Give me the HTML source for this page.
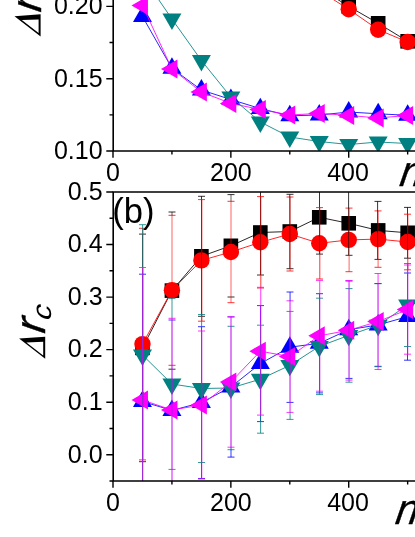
<!DOCTYPE html><html><head><meta charset="utf-8"><style>html,body{margin:0;padding:0;background:#fff}svg{display:block;will-change:transform}</style></head><body><svg width="415" height="537" viewBox="0 0 415 537">
<rect width="415" height="537" fill="#fff"/>
<defs><clipPath id="ct"><rect x="113.0" y="-50" width="400" height="201.0"/></clipPath>
<clipPath id="cb"><rect x="113.0" y="192.0" width="400" height="289.0"/></clipPath></defs>
<g clip-path="url(#ct)">
<polyline points="319.25,-12.00 348.72,6.40 378.19,23.30 407.65,41.30" fill="none" stroke="#000000" stroke-width="0.85"/>
<rect x="311.95" y="-19.30" width="14.6" height="14.6" fill="#000000"/>
<rect x="341.42" y="-0.90" width="14.6" height="14.6" fill="#000000"/>
<rect x="370.88" y="16.00" width="14.6" height="14.6" fill="#000000"/>
<rect x="400.35" y="34.00" width="14.6" height="14.6" fill="#000000"/>
<polyline points="319.25,-9.40 348.72,9.30 378.19,29.70 407.65,42.00" fill="none" stroke="#ff0000" stroke-width="0.85"/>
<circle cx="319.25" cy="-9.40" r="8.2" fill="#ff0000"/>
<circle cx="348.72" cy="9.30" r="8.2" fill="#ff0000"/>
<circle cx="378.19" cy="29.70" r="8.2" fill="#ff0000"/>
<circle cx="407.65" cy="42.00" r="8.2" fill="#ff0000"/>
<polyline points="142.47,16.50 171.93,68.30 201.40,90.00 230.86,99.50 260.33,108.60 289.79,115.80 319.25,115.00 348.72,112.00 378.19,113.80 407.65,115.30" fill="none" stroke="#0000ff" stroke-width="0.85"/>
<polygon points="142.47,5.53 132.97,21.98 151.97,21.98" fill="#0000ff"/>
<polygon points="171.93,57.33 162.43,73.78 181.43,73.78" fill="#0000ff"/>
<polygon points="201.40,79.03 191.90,95.48 210.90,95.48" fill="#0000ff"/>
<polygon points="230.86,88.53 221.36,104.98 240.36,104.98" fill="#0000ff"/>
<polygon points="260.33,97.63 250.83,114.08 269.83,114.08" fill="#0000ff"/>
<polygon points="289.79,104.83 280.29,121.28 299.29,121.28" fill="#0000ff"/>
<polygon points="319.25,104.03 309.75,120.48 328.75,120.48" fill="#0000ff"/>
<polygon points="348.72,101.03 339.22,117.48 358.22,117.48" fill="#0000ff"/>
<polygon points="378.19,102.83 368.69,119.28 387.69,119.28" fill="#0000ff"/>
<polygon points="407.65,104.33 398.15,120.78 417.15,120.78" fill="#0000ff"/>
<polyline points="142.47,-24.00 171.93,19.00 201.40,60.50 230.86,97.00 260.33,122.00 289.79,137.00 319.25,141.50 348.72,144.50 378.19,142.00 407.65,143.50" fill="none" stroke="#008080" stroke-width="0.85"/>
<polygon points="142.47,-13.03 132.97,-29.48 151.97,-29.48" fill="#008080"/>
<polygon points="171.93,29.97 162.43,13.52 181.43,13.52" fill="#008080"/>
<polygon points="201.40,71.47 191.90,55.02 210.90,55.02" fill="#008080"/>
<polygon points="230.86,107.97 221.36,91.52 240.36,91.52" fill="#008080"/>
<polygon points="260.33,132.97 250.83,116.52 269.83,116.52" fill="#008080"/>
<polygon points="289.79,147.97 280.29,131.52 299.29,131.52" fill="#008080"/>
<polygon points="319.25,152.47 309.75,136.02 328.75,136.02" fill="#008080"/>
<polygon points="348.72,155.47 339.22,139.02 358.22,139.02" fill="#008080"/>
<polygon points="378.19,152.97 368.69,136.52 387.69,136.52" fill="#008080"/>
<polygon points="407.65,154.47 398.15,138.02 417.15,138.02" fill="#008080"/>
<polyline points="142.47,5.50 171.93,69.00 201.40,92.00 230.86,103.40 260.33,109.50 289.79,115.00 319.25,113.40 348.72,115.40 378.19,118.00 407.65,115.40" fill="none" stroke="#ff00ff" stroke-width="0.85"/>
<polygon points="131.50,5.50 147.95,-4.00 147.95,15.00" fill="#ff00ff"/>
<polygon points="160.96,69.00 177.41,59.50 177.41,78.50" fill="#ff00ff"/>
<polygon points="190.43,92.00 206.88,82.50 206.88,101.50" fill="#ff00ff"/>
<polygon points="219.89,103.40 236.34,93.90 236.34,112.90" fill="#ff00ff"/>
<polygon points="249.36,109.50 265.81,100.00 265.81,119.00" fill="#ff00ff"/>
<polygon points="278.82,115.00 295.27,105.50 295.27,124.50" fill="#ff00ff"/>
<polygon points="308.29,113.40 324.74,103.90 324.74,122.90" fill="#ff00ff"/>
<polygon points="337.75,115.40 354.20,105.90 354.20,124.90" fill="#ff00ff"/>
<polygon points="367.22,118.00 383.67,108.50 383.67,127.50" fill="#ff00ff"/>
<polygon points="396.68,115.40 413.13,105.90 413.13,124.90" fill="#ff00ff"/>
</g>
<g clip-path="url(#cb)">
<polyline points="142.47,347.90 171.93,290.60 201.40,256.30 230.86,245.80 260.33,232.50 289.79,231.50 319.25,217.30 348.72,223.30 378.19,230.40 407.65,232.80" fill="none" stroke="#000000" stroke-width="0.85"/>
<rect x="135.16" y="340.60" width="14.6" height="14.6" fill="#000000"/>
<rect x="164.63" y="283.30" width="14.6" height="14.6" fill="#000000"/>
<rect x="194.09" y="249.00" width="14.6" height="14.6" fill="#000000"/>
<rect x="223.56" y="238.50" width="14.6" height="14.6" fill="#000000"/>
<rect x="253.03" y="225.20" width="14.6" height="14.6" fill="#000000"/>
<rect x="282.49" y="224.20" width="14.6" height="14.6" fill="#000000"/>
<rect x="311.95" y="210.00" width="14.6" height="14.6" fill="#000000"/>
<rect x="341.42" y="216.00" width="14.6" height="14.6" fill="#000000"/>
<rect x="370.88" y="223.10" width="14.6" height="14.6" fill="#000000"/>
<rect x="400.35" y="225.50" width="14.6" height="14.6" fill="#000000"/>
<polyline points="142.47,344.10 171.93,290.30 201.40,260.40 230.86,252.00 260.33,242.30 289.79,234.00 319.25,243.30 348.72,239.90 378.19,239.10 407.65,242.00" fill="none" stroke="#ff0000" stroke-width="0.85"/>
<circle cx="142.47" cy="344.10" r="8.2" fill="#ff0000"/>
<circle cx="171.93" cy="290.30" r="8.2" fill="#ff0000"/>
<circle cx="201.40" cy="260.40" r="8.2" fill="#ff0000"/>
<circle cx="230.86" cy="252.00" r="8.2" fill="#ff0000"/>
<circle cx="260.33" cy="242.30" r="8.2" fill="#ff0000"/>
<circle cx="289.79" cy="234.00" r="8.2" fill="#ff0000"/>
<circle cx="319.25" cy="243.30" r="8.2" fill="#ff0000"/>
<circle cx="348.72" cy="239.90" r="8.2" fill="#ff0000"/>
<circle cx="378.19" cy="239.10" r="8.2" fill="#ff0000"/>
<circle cx="407.65" cy="242.00" r="8.2" fill="#ff0000"/>
<polyline points="142.47,401.50 171.93,410.40 201.40,402.60 230.86,387.00 260.33,363.60 289.79,347.20 319.25,343.30 348.72,329.70 378.19,324.90 407.65,316.60" fill="none" stroke="#0000ff" stroke-width="0.85"/>
<polygon points="142.47,390.53 132.97,406.98 151.97,406.98" fill="#0000ff"/>
<polygon points="171.93,399.43 162.43,415.88 181.43,415.88" fill="#0000ff"/>
<polygon points="201.40,391.63 191.90,408.08 210.90,408.08" fill="#0000ff"/>
<polygon points="230.86,376.03 221.36,392.48 240.36,392.48" fill="#0000ff"/>
<polygon points="260.33,352.63 250.83,369.08 269.83,369.08" fill="#0000ff"/>
<polygon points="289.79,336.23 280.29,352.68 299.29,352.68" fill="#0000ff"/>
<polygon points="319.25,332.33 309.75,348.78 328.75,348.78" fill="#0000ff"/>
<polygon points="348.72,318.73 339.22,335.18 358.22,335.18" fill="#0000ff"/>
<polygon points="378.19,313.93 368.69,330.38 387.69,330.38" fill="#0000ff"/>
<polygon points="407.65,305.63 398.15,322.08 417.15,322.08" fill="#0000ff"/>
<polyline points="142.47,355.00 171.93,384.00 201.40,388.50 230.86,388.00 260.33,379.20 289.79,365.40 319.25,346.40 348.72,335.40 378.19,325.20 407.65,305.00" fill="none" stroke="#008080" stroke-width="0.85"/>
<polygon points="142.47,365.97 132.97,349.52 151.97,349.52" fill="#008080"/>
<polygon points="171.93,394.97 162.43,378.52 181.43,378.52" fill="#008080"/>
<polygon points="201.40,399.47 191.90,383.02 210.90,383.02" fill="#008080"/>
<polygon points="230.86,398.97 221.36,382.52 240.36,382.52" fill="#008080"/>
<polygon points="260.33,390.17 250.83,373.72 269.83,373.72" fill="#008080"/>
<polygon points="289.79,376.37 280.29,359.92 299.29,359.92" fill="#008080"/>
<polygon points="319.25,357.37 309.75,340.92 328.75,340.92" fill="#008080"/>
<polygon points="348.72,346.37 339.22,329.92 358.22,329.92" fill="#008080"/>
<polygon points="378.19,336.17 368.69,319.72 387.69,319.72" fill="#008080"/>
<polygon points="407.65,315.97 398.15,299.52 417.15,299.52" fill="#008080"/>
<polyline points="142.47,400.00 171.93,410.00 201.40,405.00 230.86,382.00 260.33,351.20 289.79,356.60 319.25,335.80 348.72,330.30 378.19,321.50 407.65,309.60" fill="none" stroke="#ff00ff" stroke-width="0.85"/>
<polygon points="131.50,400.00 147.95,390.50 147.95,409.50" fill="#ff00ff"/>
<polygon points="160.96,410.00 177.41,400.50 177.41,419.50" fill="#ff00ff"/>
<polygon points="190.43,405.00 206.88,395.50 206.88,414.50" fill="#ff00ff"/>
<polygon points="219.89,382.00 236.34,372.50 236.34,391.50" fill="#ff00ff"/>
<polygon points="249.36,351.20 265.81,341.70 265.81,360.70" fill="#ff00ff"/>
<polygon points="278.82,356.60 295.27,347.10 295.27,366.10" fill="#ff00ff"/>
<polygon points="308.29,335.80 324.74,326.30 324.74,345.30" fill="#ff00ff"/>
<polygon points="337.75,330.30 354.20,320.80 354.20,339.80" fill="#ff00ff"/>
<polygon points="367.22,321.50 383.67,312.00 383.67,331.00" fill="#ff00ff"/>
<polygon points="396.68,309.60 413.13,300.10 413.13,319.10" fill="#ff00ff"/>
<path d="M139.00 234.10h7.0M139.00 461.70h7.0" stroke="#000000" stroke-width="0.8" fill="none"/>
<path d="M142.50 234.10V461.70" stroke="#000000" stroke-width="0.8" fill="none"/>
<path d="M139.00 228.30h7.0M139.00 459.90h7.0" stroke="#ff0000" stroke-width="0.8" fill="none"/>
<path d="M142.80 228.30V459.90" stroke="#ff0000" stroke-width="0.8" fill="none"/>
<path d="M139.00 274.20h7.0M139.00 528.80h7.0" stroke="#0000ff" stroke-width="0.8" fill="none"/>
<path d="M142.50 274.20V528.80" stroke="#0000ff" stroke-width="0.8" fill="none"/>
<path d="M139.00 224.70h7.0M139.00 485.30h7.0" stroke="#008080" stroke-width="0.8" fill="none"/>
<path d="M142.60 224.70V485.30" stroke="#008080" stroke-width="0.8" fill="none"/>
<path d="M139.00 267.50h7.0M139.00 532.50h7.0" stroke="#ff00ff" stroke-width="0.8" fill="none"/>
<path d="M142.75 267.50V532.50" stroke="#ff00ff" stroke-width="0.8" fill="none"/>
<path d="M168.50 212.00h7.0M168.50 369.20h7.0" stroke="#000000" stroke-width="0.8" fill="none"/>
<path d="M168.50 215.30h7.0M168.50 365.30h7.0" stroke="#ff0000" stroke-width="0.8" fill="none"/>
<path d="M168.50 320.00h7.0M168.50 500.80h7.0" stroke="#0000ff" stroke-width="0.8" fill="none"/>
<path d="M168.50 298.60h7.0M168.50 469.40h7.0" stroke="#008080" stroke-width="0.8" fill="none"/>
<path d="M168.50 318.30h7.0M168.50 501.70h7.0" stroke="#ff00ff" stroke-width="0.8" fill="none"/>
<path d="M172.00 320.00V500.80" stroke="#0000ff" stroke-width="0.25" fill="none"/>
<path d="M172.00 298.60V469.40" stroke="#008080" stroke-width="0.25" fill="none"/>
<path d="M172.00 318.30V501.70" stroke="#ff00ff" stroke-width="0.25" fill="none"/>
<path d="M172.00 212.00V215.30" stroke="#000000" stroke-width="0.62" fill="none"/>
<path d="M172.00 215.30V298.60" stroke="#ff0000" stroke-width="0.62" fill="none"/>
<path d="M172.00 298.60V318.30" stroke="#008080" stroke-width="0.62" fill="none"/>
<path d="M172.00 318.30V320.00" stroke="#ff00ff" stroke-width="0.62" fill="none"/>
<path d="M172.00 320.00V365.30" stroke="#ff00ff" stroke-width="0.62" fill="none"/>
<path d="M172.00 365.30V369.20" stroke="#ff00ff" stroke-width="0.62" fill="none"/>
<path d="M172.00 369.20V469.40" stroke="#ff00ff" stroke-width="0.62" fill="none"/>
<path d="M172.00 469.40V500.80" stroke="#ff00ff" stroke-width="0.62" fill="none"/>
<path d="M172.00 500.80V501.70" stroke="#ff00ff" stroke-width="0.62" fill="none"/>
<path d="M198.00 196.30h7.0M198.00 316.30h7.0" stroke="#000000" stroke-width="0.8" fill="none"/>
<path d="M201.50 196.30V316.30" stroke="#000000" stroke-width="0.8" fill="none"/>
<path d="M198.00 199.60h7.0M198.00 321.20h7.0" stroke="#ff0000" stroke-width="0.8" fill="none"/>
<path d="M201.80 199.60V321.20" stroke="#ff0000" stroke-width="0.8" fill="none"/>
<path d="M198.00 326.70h7.0M198.00 478.50h7.0" stroke="#0000ff" stroke-width="0.8" fill="none"/>
<path d="M201.50 326.70V478.50" stroke="#0000ff" stroke-width="0.8" fill="none"/>
<path d="M198.00 314.50h7.0M198.00 462.50h7.0" stroke="#008080" stroke-width="0.8" fill="none"/>
<path d="M201.60 314.50V462.50" stroke="#008080" stroke-width="0.8" fill="none"/>
<path d="M198.00 331.00h7.0M198.00 479.00h7.0" stroke="#ff00ff" stroke-width="0.8" fill="none"/>
<path d="M201.75 331.00V479.00" stroke="#ff00ff" stroke-width="0.8" fill="none"/>
<path d="M227.50 194.60h7.0M227.50 297.00h7.0" stroke="#000000" stroke-width="0.8" fill="none"/>
<path d="M227.50 201.30h7.0M227.50 302.70h7.0" stroke="#ff0000" stroke-width="0.8" fill="none"/>
<path d="M227.50 316.90h7.0M227.50 457.10h7.0" stroke="#0000ff" stroke-width="0.8" fill="none"/>
<path d="M227.50 326.30h7.0M227.50 449.70h7.0" stroke="#008080" stroke-width="0.8" fill="none"/>
<path d="M227.50 316.80h7.0M227.50 447.20h7.0" stroke="#ff00ff" stroke-width="0.8" fill="none"/>
<path d="M231.00 316.90V457.10" stroke="#0000ff" stroke-width="0.25" fill="none"/>
<path d="M231.00 326.30V449.70" stroke="#008080" stroke-width="0.25" fill="none"/>
<path d="M231.00 316.80V447.20" stroke="#ff00ff" stroke-width="0.25" fill="none"/>
<path d="M231.00 194.60V201.30" stroke="#000000" stroke-width="0.62" fill="none"/>
<path d="M231.00 201.30V297.00" stroke="#ff0000" stroke-width="0.62" fill="none"/>
<path d="M231.00 297.00V302.70" stroke="#ff0000" stroke-width="0.62" fill="none"/>
<path d="M231.00 316.80V316.90" stroke="#ff00ff" stroke-width="0.62" fill="none"/>
<path d="M231.00 316.90V326.30" stroke="#ff00ff" stroke-width="0.62" fill="none"/>
<path d="M231.00 326.30V447.20" stroke="#ff00ff" stroke-width="0.62" fill="none"/>
<path d="M231.00 447.20V449.70" stroke="#008080" stroke-width="0.62" fill="none"/>
<path d="M231.00 449.70V457.10" stroke="#0000ff" stroke-width="0.62" fill="none"/>
<path d="M257.00 190.00h7.0M257.00 275.00h7.0" stroke="#000000" stroke-width="0.8" fill="none"/>
<path d="M260.50 190.00V275.00" stroke="#000000" stroke-width="0.8" fill="none"/>
<path d="M257.00 196.60h7.0M257.00 288.00h7.0" stroke="#ff0000" stroke-width="0.8" fill="none"/>
<path d="M260.80 196.60V288.00" stroke="#ff0000" stroke-width="0.8" fill="none"/>
<path d="M257.00 305.60h7.0M257.00 421.60h7.0" stroke="#0000ff" stroke-width="0.8" fill="none"/>
<path d="M260.50 305.60V421.60" stroke="#0000ff" stroke-width="0.8" fill="none"/>
<path d="M257.00 325.20h7.0M257.00 433.20h7.0" stroke="#008080" stroke-width="0.8" fill="none"/>
<path d="M260.60 325.20V433.20" stroke="#008080" stroke-width="0.8" fill="none"/>
<path d="M257.00 287.30h7.0M257.00 415.10h7.0" stroke="#ff00ff" stroke-width="0.8" fill="none"/>
<path d="M260.75 287.30V415.10" stroke="#ff00ff" stroke-width="0.8" fill="none"/>
<path d="M286.50 194.30h7.0M286.50 268.70h7.0" stroke="#000000" stroke-width="0.8" fill="none"/>
<path d="M286.50 197.00h7.0M286.50 271.00h7.0" stroke="#ff0000" stroke-width="0.8" fill="none"/>
<path d="M286.50 292.00h7.0M286.50 402.40h7.0" stroke="#0000ff" stroke-width="0.8" fill="none"/>
<path d="M286.50 311.40h7.0M286.50 419.40h7.0" stroke="#008080" stroke-width="0.8" fill="none"/>
<path d="M286.50 300.80h7.0M286.50 412.40h7.0" stroke="#ff00ff" stroke-width="0.8" fill="none"/>
<path d="M289.80 194.30V268.70" stroke="#000000" stroke-width="0.8" fill="none"/>
<path d="M290.00 292.00V402.40" stroke="#0000ff" stroke-width="0.25" fill="none"/>
<path d="M290.00 311.40V419.40" stroke="#008080" stroke-width="0.25" fill="none"/>
<path d="M290.00 300.80V412.40" stroke="#ff00ff" stroke-width="0.25" fill="none"/>
<path d="M290.10 197.00V271.00" stroke="#ff0000" stroke-width="0.62" fill="none"/>
<path d="M290.10 292.00V300.80" stroke="#0000ff" stroke-width="0.62" fill="none"/>
<path d="M290.10 300.80V311.40" stroke="#ff00ff" stroke-width="0.62" fill="none"/>
<path d="M290.10 311.40V402.40" stroke="#ff00ff" stroke-width="0.62" fill="none"/>
<path d="M290.10 402.40V412.40" stroke="#ff00ff" stroke-width="0.62" fill="none"/>
<path d="M290.10 412.40V419.40" stroke="#008080" stroke-width="0.62" fill="none"/>
<path d="M316.00 180.50h7.0M316.00 254.10h7.0" stroke="#000000" stroke-width="0.8" fill="none"/>
<path d="M319.50 180.50V254.10" stroke="#000000" stroke-width="0.8" fill="none"/>
<path d="M316.00 207.60h7.0M316.00 279.00h7.0" stroke="#ff0000" stroke-width="0.8" fill="none"/>
<path d="M319.80 207.60V279.00" stroke="#ff0000" stroke-width="0.8" fill="none"/>
<path d="M316.00 293.70h7.0M316.00 392.90h7.0" stroke="#0000ff" stroke-width="0.8" fill="none"/>
<path d="M319.50 293.70V392.90" stroke="#0000ff" stroke-width="0.8" fill="none"/>
<path d="M316.00 298.20h7.0M316.00 394.60h7.0" stroke="#008080" stroke-width="0.8" fill="none"/>
<path d="M319.60 298.20V394.60" stroke="#008080" stroke-width="0.8" fill="none"/>
<path d="M316.00 280.40h7.0M316.00 391.20h7.0" stroke="#ff00ff" stroke-width="0.8" fill="none"/>
<path d="M319.75 280.40V391.20" stroke="#ff00ff" stroke-width="0.8" fill="none"/>
<path d="M345.50 191.30h7.0M345.50 255.30h7.0" stroke="#000000" stroke-width="0.8" fill="none"/>
<path d="M345.50 208.10h7.0M345.50 271.70h7.0" stroke="#ff0000" stroke-width="0.8" fill="none"/>
<path d="M345.50 281.00h7.0M345.50 378.40h7.0" stroke="#0000ff" stroke-width="0.8" fill="none"/>
<path d="M345.50 288.60h7.0M345.50 382.20h7.0" stroke="#008080" stroke-width="0.8" fill="none"/>
<path d="M345.50 280.50h7.0M345.50 380.10h7.0" stroke="#ff00ff" stroke-width="0.8" fill="none"/>
<path d="M348.60 191.30V255.30" stroke="#000000" stroke-width="0.8" fill="none"/>
<path d="M349.00 281.00V378.40" stroke="#0000ff" stroke-width="0.25" fill="none"/>
<path d="M349.00 288.60V382.20" stroke="#008080" stroke-width="0.25" fill="none"/>
<path d="M349.00 280.50V380.10" stroke="#ff00ff" stroke-width="0.25" fill="none"/>
<path d="M349.10 208.10V271.70" stroke="#ff0000" stroke-width="0.62" fill="none"/>
<path d="M349.10 280.50V281.00" stroke="#ff00ff" stroke-width="0.62" fill="none"/>
<path d="M349.10 281.00V288.60" stroke="#ff00ff" stroke-width="0.62" fill="none"/>
<path d="M349.10 288.60V378.40" stroke="#ff00ff" stroke-width="0.62" fill="none"/>
<path d="M349.10 378.40V380.10" stroke="#ff00ff" stroke-width="0.62" fill="none"/>
<path d="M349.10 380.10V382.20" stroke="#008080" stroke-width="0.62" fill="none"/>
<path d="M374.50 201.40h7.0M374.50 259.40h7.0" stroke="#000000" stroke-width="0.8" fill="none"/>
<path d="M374.50 210.90h7.0M374.50 267.30h7.0" stroke="#ff0000" stroke-width="0.8" fill="none"/>
<path d="M374.50 283.50h7.0M374.50 366.30h7.0" stroke="#0000ff" stroke-width="0.8" fill="none"/>
<path d="M374.50 283.70h7.0M374.50 366.70h7.0" stroke="#008080" stroke-width="0.8" fill="none"/>
<path d="M374.50 273.50h7.0M374.50 369.50h7.0" stroke="#ff00ff" stroke-width="0.8" fill="none"/>
<path d="M377.60 201.40V259.40" stroke="#000000" stroke-width="0.8" fill="none"/>
<path d="M378.00 283.50V366.30" stroke="#0000ff" stroke-width="0.25" fill="none"/>
<path d="M378.00 283.70V366.70" stroke="#008080" stroke-width="0.25" fill="none"/>
<path d="M378.00 273.50V369.50" stroke="#ff00ff" stroke-width="0.25" fill="none"/>
<path d="M378.10 210.90V267.30" stroke="#ff0000" stroke-width="0.62" fill="none"/>
<path d="M378.10 273.50V283.50" stroke="#ff00ff" stroke-width="0.62" fill="none"/>
<path d="M378.10 283.50V283.70" stroke="#ff00ff" stroke-width="0.62" fill="none"/>
<path d="M378.10 283.70V366.30" stroke="#ff00ff" stroke-width="0.62" fill="none"/>
<path d="M378.10 366.30V366.70" stroke="#ff00ff" stroke-width="0.62" fill="none"/>
<path d="M378.10 366.70V369.50" stroke="#ff00ff" stroke-width="0.62" fill="none"/>
<path d="M404.00 207.40h7.0M404.00 258.20h7.0" stroke="#000000" stroke-width="0.8" fill="none"/>
<path d="M407.50 207.40V258.20" stroke="#000000" stroke-width="0.8" fill="none"/>
<path d="M404.00 214.20h7.0M404.00 269.80h7.0" stroke="#ff0000" stroke-width="0.8" fill="none"/>
<path d="M407.80 214.20V269.80" stroke="#ff0000" stroke-width="0.8" fill="none"/>
<path d="M404.00 273.00h7.0M404.00 360.20h7.0" stroke="#0000ff" stroke-width="0.8" fill="none"/>
<path d="M407.50 273.00V360.20" stroke="#0000ff" stroke-width="0.8" fill="none"/>
<path d="M404.00 263.50h7.0M404.00 346.50h7.0" stroke="#008080" stroke-width="0.8" fill="none"/>
<path d="M407.60 263.50V346.50" stroke="#008080" stroke-width="0.8" fill="none"/>
<path d="M404.00 265.00h7.0M404.00 354.20h7.0" stroke="#ff00ff" stroke-width="0.8" fill="none"/>
<path d="M407.75 265.00V354.20" stroke="#ff00ff" stroke-width="0.8" fill="none"/>
</g>
<path d="M113.2 -5V151.8M112.4 151.0H420" stroke="#000" stroke-width="1.6" fill="none"/>
<path d="M113.2 191.2V481.8M112.4 192.0H420M112.4 481.0H420" stroke="#000" stroke-width="1.6" fill="none"/>
<path d="M106.3 6.40H113.0M109.5 42.55H113.0M106.3 78.70H113.0M109.5 114.85H113.0M106.3 151.00H113.0M109.5 481.00H113.0M106.3 454.73H113.0M109.5 428.46H113.0M106.3 402.19H113.0M109.5 375.91H113.0M106.3 349.64H113.0M109.5 323.37H113.0M106.3 297.09H113.0M109.5 270.82H113.0M106.3 244.55H113.0M109.5 218.28H113.0M106.3 192.00H113.0M113.00 151.0V157.7M113.00 481.0V487.7M171.93 151.0V154.5M171.93 481.0V484.5M230.86 151.0V157.7M230.86 481.0V487.7M289.79 151.0V154.5M289.79 481.0V484.5M348.72 151.0V157.7M348.72 481.0V487.7M407.65 151.0V154.5M407.65 481.0V484.5" stroke="#000" stroke-width="1.4" fill="none"/>
<g font-family="Liberation Sans, sans-serif" fill="#000">
<text x="102.6" y="14.2" font-size="25" text-anchor="end" >0.20</text>
<text x="102.6" y="86.5" font-size="25" text-anchor="end" >0.15</text>
<text x="102.6" y="158.8" font-size="25" text-anchor="end" >0.10</text>
<text x="102.6" y="199.8" font-size="25" text-anchor="end" >0.5</text>
<text x="102.6" y="252.3" font-size="25" text-anchor="end" >0.4</text>
<text x="102.6" y="304.9" font-size="25" text-anchor="end" >0.3</text>
<text x="102.6" y="357.4" font-size="25" text-anchor="end" >0.2</text>
<text x="102.6" y="410.0" font-size="25" text-anchor="end" >0.1</text>
<text x="102.6" y="462.5" font-size="25" text-anchor="end" >0.0</text>
<text x="113.0" y="181.2" font-size="25" text-anchor="middle" >0</text>
<text x="113.0" y="510.7" font-size="25" text-anchor="middle" >0</text>
<text x="230.9" y="181.2" font-size="25" text-anchor="middle" >200</text>
<text x="230.9" y="510.7" font-size="25" text-anchor="middle" >200</text>
<text x="348.0" y="181.2" font-size="25" text-anchor="middle" >400</text>
<text x="348.0" y="510.7" font-size="25" text-anchor="middle" >400</text>
<text x="112.3" y="222.7" font-size="34.6" text-anchor="start" >(b)</text>
<text transform="translate(396.6 185.8) skewX(-19) scale(0.95 1)" font-size="43" stroke="#000" stroke-width="0.35">n</text>
<text transform="translate(392.2 523.5) skewX(-19) scale(0.95 1)" font-size="43" stroke="#000" stroke-width="0.35">n</text>
<g transform="translate(45.2 358.8) rotate(-90)"><path d="M0 0 L20.2 -26.1 L22.1 0 Z M3.4 -2.0 L17.0 -2.0 L16.3 -18.8 Z" fill="#000" fill-rule="evenodd"/><text transform="translate(22.5 0) skewX(-19)" font-size="43" stroke="#000" stroke-width="0.45">r</text><text transform="translate(36.9 6) skewX(-19) scale(1.12 1)" font-size="27">c</text></g>
<g transform="translate(40.6 36.4) rotate(-90)"><path d="M0 0 L20.2 -26.1 L22.1 0 Z M3.4 -2.0 L17.0 -2.0 L16.3 -18.8 Z" fill="#000" fill-rule="evenodd"/><text transform="translate(21.5 0) skewX(-19)" font-size="43" stroke="#000" stroke-width="0.45">r</text></g>
</g>
</svg></body></html>
